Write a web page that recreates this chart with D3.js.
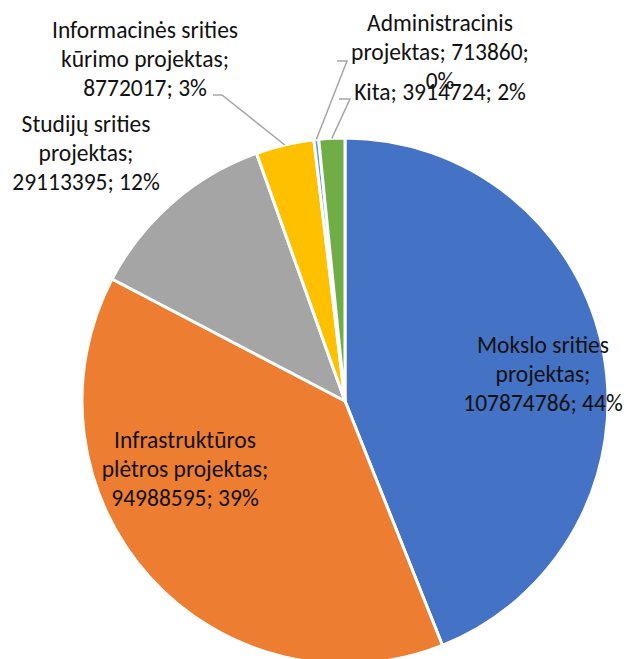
<!DOCTYPE html>
<html>
<head>
<meta charset="utf-8">
<script src="https://cdnjs.cloudflare.com/ajax/libs/d3/7.8.5/d3.min.js"></script>
<style>
body { margin: 0; background: #fff; }
text { font-family: Carlito, Calibri, Lato, sans-serif; font-size: 23.5px; fill: #111; }
</style>
</head>
<body>
<svg id="chart" width="627" height="659"></svg>
<script>
// data
var categories = ["Mokslo srities projektas", "Infrastruktūros plėtros projektas",
  "Studijų srities projektas", "Informacinės srities kūrimo projektas",
  "Administracinis projektas", "Kita"];
var values = [107874786, 94988595, 29113395, 8772017, 713860, 3914724];
var pctLabels = ["44%", "39%", "12%", "3%", "0%", "2%"];
var colors = ["#4472C4", "#ED7D31", "#A5A5A5", "#FFC000", "#5B9BD5", "#70AD47"];

// label placement (centre x, first baseline, wrap width) and leader elbows
var labelLayout = [
  {x: 543, y: 353, w: 180},
  {x: 185, y: 448, w: 185},
  {x: 86,  y: 132, w: 165},
  {x: 145, y: 38,  w: 205, elbow: [222, 95], hx: 213},
  {x: 440, y: 31,  w: 190, elbow: [347, 61], hx: 337},
  {x: 440, y: 100, w: 210, elbow: [350, 99], hx: 339}
];

var svg = d3.select("#chart");
var cx = 345, cy = 401, radius = 263, lineH = 29;

var data = categories.map(function(c, i) {
  return {name: c, value: values[i], pct: pctLabels[i], color: colors[i], lay: labelLayout[i]};
});

var pie = d3.pie().sort(null).value(function(d) { return d.value; });
var arc = d3.arc().innerRadius(0).outerRadius(radius);
var arcs = pie(data);

var g = svg.append("g").attr("transform", "translate(" + cx + "," + cy + ")");

g.selectAll("path")
  .data(arcs)
  .enter()
  .append("path")
  .attr("d", arc)
  .attr("fill", function(d) { return d.data.color; })
  .attr("stroke", "#fff")
  .attr("stroke-width", 3)
  .attr("stroke-linejoin", "round");

// leader lines for the small slices
arcs.forEach(function(d) {
  var lay = d.data.lay;
  if (!lay.elbow) return;
  var mid = (d.startAngle + d.endAngle) / 2;
  var p = d3.pointRadial(mid, radius);
  svg.append("polyline")
    .attr("points", [[cx + p[0], cy + p[1]], lay.elbow, [lay.hx, lay.elbow[1]]].join(" "))
    .attr("fill", "none")
    .attr("stroke", "#A6A6A6")
    .attr("stroke-width", 1.5);
});

// measure helper for wrapping labels like Excel does
var probe = svg.append("text").attr("visibility", "hidden");
function textWidth(s) { probe.text(s); return probe.node().getComputedTextLength(); }

function wrap(str, maxW) {
  var words = str.split(" "), lines = [], cur = "";
  words.forEach(function(w) {
    var t = cur ? cur + " " + w : w;
    if (cur && textWidth(t) > maxW) { lines.push(cur); cur = w; }
    else cur = t;
  });
  lines.push(cur);
  return lines;
}

data.forEach(function(d) {
  var lines = wrap(d.name + "; " + d.value + "; " + d.pct, d.lay.w);
  var t = svg.append("text")
    .attr("text-anchor", "middle");
  lines.forEach(function(l, j) {
    t.append("tspan")
      .attr("x", d.lay.x)
      .attr("y", d.lay.y + j * lineH)
      .text(l);
  });
});
probe.remove();
</script>
</body>
</html>
